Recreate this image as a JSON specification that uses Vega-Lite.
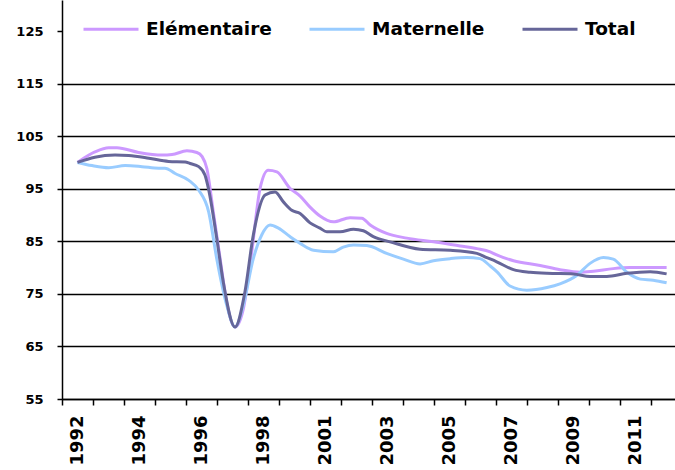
{
  "$schema": "https://vega.github.io/schema/vega-lite/v6.json",
  "width": 613,
  "height": 399,
  "autosize": {"type": "none"},
  "padding": {"left": 62, "top": 0, "right": 0, "bottom": 71},
  "background": "white",
  "config": {"view": {"stroke": null}},
  "data": {"values": [
    {"x": 0.5, "serie": "Elémentaire", "valeur": 100.0},
    {"x": 1.06, "serie": "Elémentaire", "valeur": 102.0},
    {"x": 1.51, "serie": "Elémentaire", "valeur": 102.8},
    {"x": 1.77, "serie": "Elémentaire", "valeur": 102.8},
    {"x": 2.47, "serie": "Elémentaire", "valeur": 101.9},
    {"x": 3.23, "serie": "Elémentaire", "valeur": 101.4},
    {"x": 3.55, "serie": "Elémentaire", "valeur": 101.5},
    {"x": 4.03, "serie": "Elémentaire", "valeur": 102.2},
    {"x": 4.35, "serie": "Elémentaire", "valeur": 101.9},
    {"x": 4.52, "serie": "Elémentaire", "valeur": 101.1},
    {"x": 4.67, "serie": "Elémentaire", "valeur": 98.9},
    {"x": 4.88, "serie": "Elémentaire", "valeur": 90.6},
    {"x": 5.10, "serie": "Elémentaire", "valeur": 81.7},
    {"x": 5.31, "serie": "Elémentaire", "valeur": 73.5},
    {"x": 5.58, "serie": "Elémentaire", "valeur": 68.7},
    {"x": 5.85, "serie": "Elémentaire", "valeur": 72.2},
    {"x": 6.12, "serie": "Elémentaire", "valeur": 83.0},
    {"x": 6.39, "serie": "Elémentaire", "valeur": 95.1},
    {"x": 6.65, "serie": "Elémentaire", "valeur": 98.5},
    {"x": 6.93, "serie": "Elémentaire", "valeur": 98.2},
    {"x": 7.35, "serie": "Elémentaire", "valeur": 95.1},
    {"x": 7.68, "serie": "Elémentaire", "valeur": 93.6},
    {"x": 8.00, "serie": "Elémentaire", "valeur": 91.5},
    {"x": 8.32, "serie": "Elémentaire", "valeur": 89.8},
    {"x": 8.75, "serie": "Elémentaire", "valeur": 88.7},
    {"x": 9.29, "serie": "Elémentaire", "valeur": 89.5},
    {"x": 9.67, "serie": "Elémentaire", "valeur": 89.4},
    {"x": 9.94, "serie": "Elémentaire", "valeur": 88.1},
    {"x": 10.47, "serie": "Elémentaire", "valeur": 86.5},
    {"x": 11.12, "serie": "Elémentaire", "valeur": 85.6},
    {"x": 11.98, "serie": "Elémentaire", "valeur": 84.9},
    {"x": 12.84, "serie": "Elémentaire", "valeur": 84.1},
    {"x": 13.38, "serie": "Elémentaire", "valeur": 83.6},
    {"x": 13.81, "serie": "Elémentaire", "valeur": 83.0},
    {"x": 14.02, "serie": "Elémentaire", "valeur": 82.4},
    {"x": 14.56, "serie": "Elémentaire", "valeur": 81.3},
    {"x": 15.42, "serie": "Elémentaire", "valeur": 80.4},
    {"x": 16.06, "serie": "Elémentaire", "valeur": 79.6},
    {"x": 16.71, "serie": "Elémentaire", "valeur": 79.1},
    {"x": 17.14, "serie": "Elémentaire", "valeur": 79.3},
    {"x": 17.78, "serie": "Elémentaire", "valeur": 79.8},
    {"x": 18.32, "serie": "Elémentaire", "valeur": 80.0},
    {"x": 19.5, "serie": "Elémentaire", "valeur": 80.0},

    {"x": 0.5, "serie": "Maternelle", "valeur": 100.0},
    {"x": 0.97, "serie": "Maternelle", "valeur": 99.4},
    {"x": 1.51, "serie": "Maternelle", "valeur": 99.0},
    {"x": 2.04, "serie": "Maternelle", "valeur": 99.4},
    {"x": 2.58, "serie": "Maternelle", "valeur": 99.2},
    {"x": 3.12, "serie": "Maternelle", "valeur": 98.9},
    {"x": 3.32, "serie": "Maternelle", "valeur": 98.9},
    {"x": 3.65, "serie": "Maternelle", "valeur": 97.9},
    {"x": 4.09, "serie": "Maternelle", "valeur": 96.6},
    {"x": 4.41, "serie": "Maternelle", "valeur": 94.7},
    {"x": 4.73, "serie": "Maternelle", "valeur": 90.6},
    {"x": 4.99, "serie": "Maternelle", "valeur": 81.7},
    {"x": 5.31, "serie": "Maternelle", "valeur": 72.9},
    {"x": 5.58, "serie": "Maternelle", "valeur": 68.7},
    {"x": 5.85, "serie": "Maternelle", "valeur": 72.9},
    {"x": 6.17, "serie": "Maternelle", "valeur": 81.7},
    {"x": 6.44, "serie": "Maternelle", "valeur": 86.2},
    {"x": 6.71, "serie": "Maternelle", "valeur": 88.1},
    {"x": 6.98, "serie": "Maternelle", "valeur": 87.5},
    {"x": 7.35, "serie": "Maternelle", "valeur": 85.9},
    {"x": 7.68, "serie": "Maternelle", "valeur": 84.6},
    {"x": 8.11, "serie": "Maternelle", "valeur": 83.3},
    {"x": 8.75, "serie": "Maternelle", "valeur": 83.0},
    {"x": 9.07, "serie": "Maternelle", "valeur": 83.9},
    {"x": 9.40, "serie": "Maternelle", "valeur": 84.3},
    {"x": 9.83, "serie": "Maternelle", "valeur": 84.2},
    {"x": 10.47, "serie": "Maternelle", "valeur": 82.7},
    {"x": 11.01, "serie": "Maternelle", "valeur": 81.6},
    {"x": 11.55, "serie": "Maternelle", "valeur": 80.7},
    {"x": 11.98, "serie": "Maternelle", "valeur": 81.3},
    {"x": 12.52, "serie": "Maternelle", "valeur": 81.7},
    {"x": 13.05, "serie": "Maternelle", "valeur": 81.9},
    {"x": 13.48, "serie": "Maternelle", "valeur": 81.7},
    {"x": 13.81, "serie": "Maternelle", "valeur": 80.3},
    {"x": 14.03, "serie": "Maternelle", "valeur": 79.2},
    {"x": 14.45, "serie": "Maternelle", "valeur": 76.5},
    {"x": 14.99, "serie": "Maternelle", "valeur": 75.7},
    {"x": 15.64, "serie": "Maternelle", "valeur": 76.2},
    {"x": 16.06, "serie": "Maternelle", "valeur": 76.9},
    {"x": 16.60, "serie": "Maternelle", "valeur": 78.5},
    {"x": 17.03, "serie": "Maternelle", "valeur": 80.8},
    {"x": 17.46, "serie": "Maternelle", "valeur": 81.9},
    {"x": 17.78, "serie": "Maternelle", "valeur": 81.6},
    {"x": 18.22, "serie": "Maternelle", "valeur": 79.1},
    {"x": 18.65, "serie": "Maternelle", "valeur": 77.8},
    {"x": 19.07, "serie": "Maternelle", "valeur": 77.6},
    {"x": 19.5, "serie": "Maternelle", "valeur": 77.1},

    {"x": 0.5, "serie": "Total", "valeur": 100.0},
    {"x": 1.06, "serie": "Total", "valeur": 101.0},
    {"x": 1.71, "serie": "Total", "valeur": 101.4},
    {"x": 2.15, "serie": "Total", "valeur": 101.3},
    {"x": 2.80, "serie": "Total", "valeur": 100.8},
    {"x": 3.44, "serie": "Total", "valeur": 100.2},
    {"x": 3.97, "serie": "Total", "valeur": 100.1},
    {"x": 4.13, "serie": "Total", "valeur": 99.8},
    {"x": 4.41, "serie": "Total", "valeur": 99.2},
    {"x": 4.61, "serie": "Total", "valeur": 97.6},
    {"x": 4.72, "serie": "Total", "valeur": 95.1},
    {"x": 4.99, "serie": "Total", "valeur": 85.6},
    {"x": 5.20, "serie": "Total", "valeur": 77.3},
    {"x": 5.58, "serie": "Total", "valeur": 68.7},
    {"x": 5.90, "serie": "Total", "valeur": 75.4},
    {"x": 6.17, "serie": "Total", "valeur": 86.2},
    {"x": 6.55, "serie": "Total", "valeur": 93.8},
    {"x": 6.87, "serie": "Total", "valeur": 94.4},
    {"x": 7.14, "serie": "Total", "valeur": 92.5},
    {"x": 7.41, "serie": "Total", "valeur": 90.9},
    {"x": 7.68, "serie": "Total", "valeur": 90.3},
    {"x": 8.00, "serie": "Total", "valeur": 88.5},
    {"x": 8.32, "serie": "Total", "valeur": 87.5},
    {"x": 8.54, "serie": "Total", "valeur": 86.8},
    {"x": 8.97, "serie": "Total", "valeur": 86.8},
    {"x": 9.40, "serie": "Total", "valeur": 87.3},
    {"x": 9.72, "serie": "Total", "valeur": 87.0},
    {"x": 10.04, "serie": "Total", "valeur": 85.9},
    {"x": 10.58, "serie": "Total", "valeur": 84.9},
    {"x": 11.55, "serie": "Total", "valeur": 83.5},
    {"x": 12.52, "serie": "Total", "valeur": 83.3},
    {"x": 13.38, "serie": "Total", "valeur": 82.7},
    {"x": 13.70, "serie": "Total", "valeur": 81.9},
    {"x": 14.02, "serie": "Total", "valeur": 81.1},
    {"x": 14.56, "serie": "Total", "valeur": 79.6},
    {"x": 15.10, "serie": "Total", "valeur": 79.1},
    {"x": 15.64, "serie": "Total", "valeur": 78.9},
    {"x": 16.49, "serie": "Total", "valeur": 78.8},
    {"x": 17.03, "serie": "Total", "valeur": 78.3},
    {"x": 17.57, "serie": "Total", "valeur": 78.3},
    {"x": 18.22, "serie": "Total", "valeur": 78.9},
    {"x": 18.97, "serie": "Total", "valeur": 79.2},
    {"x": 19.5, "serie": "Total", "valeur": 78.8}
  ]},
  "mark": {"type": "line", "interpolate": "monotone", "strokeWidth": 3, "clip": true},
  "encoding": {
    "x": {
      "field": "x", "type": "quantitative",
      "scale": {"domain": [0, 19.77], "nice": false, "zero": false},
      "axis": {
        "title": null,
        "values": [0,1,2,3,4,5,6,7,8,9,10,11,12,13,14,15,16,17,18,19],
        "labelExpr": "['1992','','1994','','1996','','1998','','2001','','2003','','2005','','2007','','2009','','2011',''][datum.value]",
        "labelOffset": 15.5,
        "labelAngle": -90,
        "labelAlign": "right",
        "labelBaseline": "middle",
        "labelFont": "DejaVu Sans",
        "labelFontWeight": "bold",
        "labelFontSize": 18,
        "labelColor": "black",
        "labelPadding": 10,
        "labelOverlap": false,
        "labelFlush": false,
        "grid": false,
        "tickColor": "black",
        "tickSize": 6,
        "tickWidth": 1.5,
        "domainColor": "black",
        "domainWidth": 1.5
      }
    },
    "y": {
      "field": "valeur", "type": "quantitative",
      "scale": {"domain": [55, 130.9], "nice": false, "zero": false},
      "axis": {
        "title": null,
        "values": [55, 65, 75, 85, 95, 105, 115, 125],
        "labelFont": "DejaVu Sans",
        "labelFontWeight": "bold",
        "labelFontSize": 13,
        "labelColor": "black",
        "labelPadding": 14,
        "grid": true,
        "gridColor": {"condition": {"test": "datum.value >= 125", "value": "transparent"}, "value": "black"},
        "gridWidth": 1.5,
        "gridOpacity": 1,
        "tickColor": "black",
        "tickSize": 5,
        "tickWidth": 1.5,
        "domainColor": "black",
        "domainWidth": 1.5
      }
    },
    "color": {
      "field": "serie", "type": "nominal",
      "scale": {"domain": ["Elémentaire", "Maternelle", "Total"], "range": ["#CC99FF", "#99CCFF", "#666699"]},
      "legend": {
        "title": null,
        "orient": "none",
        "direction": "horizontal",
        "legendX": 20,
        "legendY": 0,
        "symbolType": "stroke",
        "symbolSize": 3025,
        "symbolStrokeWidth": 3,
        "labelFont": "DejaVu Sans",
        "labelFontWeight": "bold",
        "labelFontSize": 18.5,
        "labelColor": "black",
        "labelOffset": 6,
        "labelLimit": 300,
        "columnPadding": 31
      }
    }
  }
}
